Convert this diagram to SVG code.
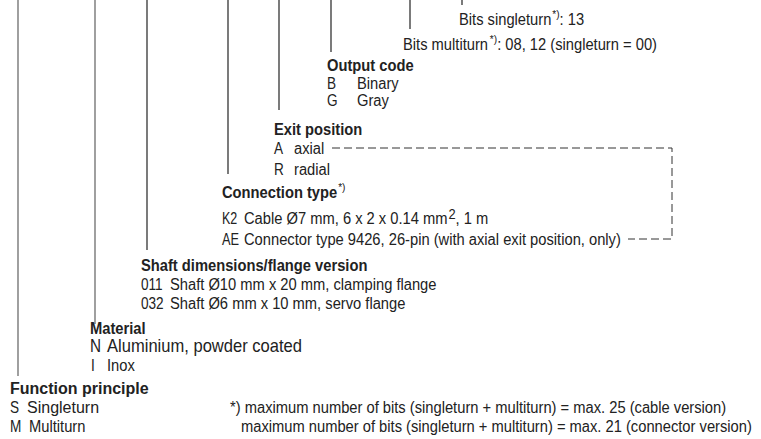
<svg xmlns="http://www.w3.org/2000/svg" width="761" height="439" viewBox="0 0 761 439">
<style>
text{font-family:"Liberation Sans",Arial,sans-serif;font-size:16px;fill:#222}
.h{font-weight:bold}
.sup{font-size:11px}
.sq{font-size:14px}
.big{font-size:18px}
.lead{stroke:#222;stroke-width:1.2;fill:none}
.g{stroke:#888;stroke-width:1.6}
.dash{stroke:#333;stroke-width:1;fill:none;stroke-dasharray:8 4}
</style>
<rect width="761" height="439" fill="#fff"/>
<g id="connectors">
<line class="lead g" x1="18" y1="0" x2="18" y2="376"/>
<line class="lead g" x1="95" y1="0" x2="95" y2="324"/>
<line class="lead" x1="147" y1="0" x2="147" y2="250"/>
<line class="lead" x1="228" y1="0" x2="228" y2="174"/>
<line class="lead" x1="279" y1="0" x2="279" y2="110"/>
<line class="lead" x1="331" y1="0" x2="331" y2="52"/>
<line class="lead" x1="410" y1="0" x2="410" y2="29"/>
<line class="lead" x1="462" y1="0" x2="462" y2="5"/>
<polyline class="dash" points="332,148 672,148 672,239 628,239"/>
</g>
<g id="bits-singleturn">
<text transform="translate(459,25) scale(0.92,1)">Bits singleturn<tspan class="sup" dx="1" dy="-7">*)</tspan><tspan dy="7">: 13</tspan></text>
</g>
<g id="bits-multiturn">
<text transform="translate(403,50) scale(0.92,1)">Bits multiturn<tspan class="sup" dx="2" dy="-7">*)</tspan><tspan dy="7">: 08, 12 (singleturn = 00)</tspan></text>
</g>
<g id="output-code">
<text class="h" transform="translate(327,71) scale(0.92,1)">Output code</text>
<text transform="translate(327,89) scale(0.85,1)">B</text>
<text transform="translate(357,89) scale(0.92,1)">Binary</text>
<text transform="translate(327,106) scale(0.85,1)">G</text>
<text transform="translate(357,106) scale(0.92,1)">Gray</text>
</g>
<g id="exit-position">
<text class="h" transform="translate(274,135) scale(0.92,1)">Exit position</text>
<text transform="translate(274,154) scale(0.85,1)">A</text>
<text transform="translate(294,154) scale(0.92,1)">axial</text>
<text transform="translate(274,175) scale(0.85,1)">R</text>
<text transform="translate(294,175) scale(0.92,1)">radial</text>
</g>
<g id="connection-type">
<text class="h" transform="translate(222,198) scale(0.92,1)">Connection type<tspan class="sup" font-weight="normal" dx="1" dy="-7">*)</tspan></text>
<text transform="translate(222,224) scale(0.78,1)">K2</text>
<text transform="translate(244,224) scale(0.92,1)">Cable Ø7 mm, 6 x 2 x 0.14 mm<tspan class="sq" dx="1" dy="-5">2</tspan><tspan dy="5">, 1 m</tspan></text>
<text transform="translate(222,245) scale(0.8,1)">AE</text>
<text transform="translate(244,245) scale(0.92,1)">Connector type 9426, 26-pin (with axial exit position, only)</text>
</g>
<g id="shaft">
<text class="h" transform="translate(141,271) scale(0.92,1)">Shaft dimensions/flange version</text>
<text transform="translate(141,290) scale(0.85,1)">011</text>
<text transform="translate(170,290) scale(0.92,1)">Shaft Ø10 mm x 20 mm, clamping flange</text>
<text transform="translate(141,309) scale(0.85,1)">032</text>
<text transform="translate(170,309) scale(0.92,1)">Shaft Ø6 mm x 10 mm, servo flange</text>
</g>
<g id="material">
<text class="h" transform="translate(90,334) scale(0.92,1)">Material</text>
<text class="big" transform="translate(90,352) scale(0.85,1)">N</text>
<text class="big" transform="translate(107,352) scale(0.92,1)">Aluminium, powder coated</text>
<text transform="translate(91,371) scale(0.85,1)">I</text>
<text transform="translate(107,371) scale(0.92,1)">Inox</text>
</g>
<g id="function-principle">
<text class="h" transform="translate(10,394) scale(1,1)">Function principle</text>
<text transform="translate(10,413) scale(0.85,1)">S</text>
<text transform="translate(27,413) scale(1,1)">Singleturn</text>
<text transform="translate(10,432) scale(0.85,1)">M</text>
<text transform="translate(29,432) scale(0.92,1)">Multiturn</text>
</g>
<g id="footnote">
<text transform="translate(230,413) scale(0.92,1)">*) maximum number of bits (singleturn + multiturn) = max. 25 (cable version)</text>
<text transform="translate(241,432) scale(0.92,1)">maximum number of bits (singleturn + multiturn) = max. 21 (connector version)</text>
</g>
</svg>
